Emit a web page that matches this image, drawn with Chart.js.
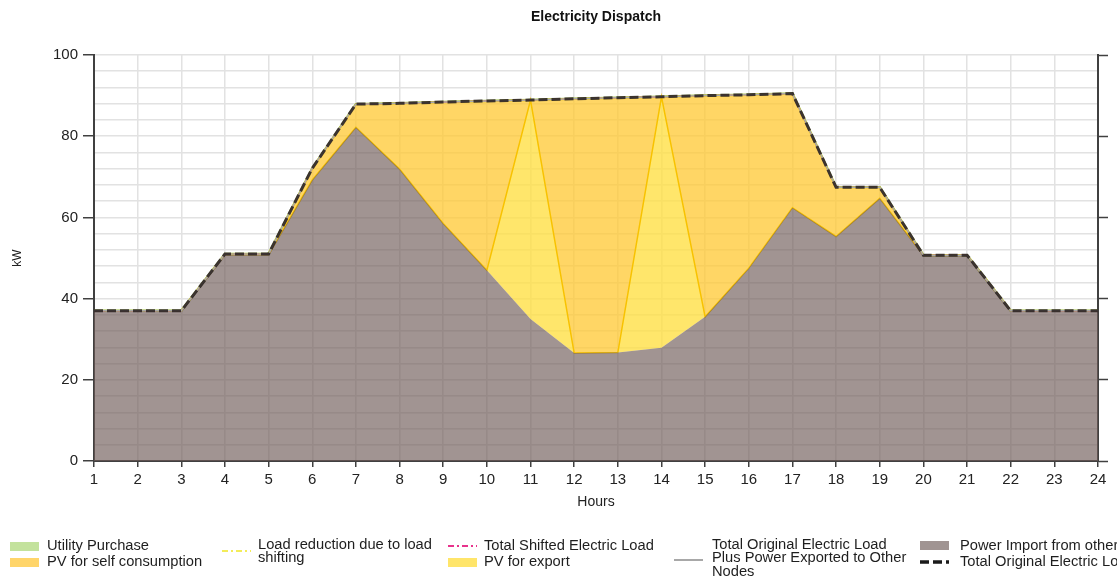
<!DOCTYPE html>
<html><head><meta charset="utf-8">
<script src="https://cdn.jsdelivr.net/npm/chart.js@4.4.1/dist/chart.umd.min.js"></script>
<style>
html,body{margin:0;padding:0;background:#fff;overflow:hidden;width:1117px;height:576px;}
#wrap{position:relative;width:1117px;height:576px;overflow:hidden;}
#c{position:absolute;left:0;top:0;}
.lt{position:absolute;font-family:"Liberation Sans",Arial,sans-serif;font-size:14.7px;line-height:13.5px;color:#1e1e1e;white-space:normal;}
.sym{position:absolute;}
</style>
</head><body>
<div id="wrap"><canvas id="c" width="1117" height="576"></canvas><div id="legend"></div></div>
<script>
// ---- data ----
const TITLE = 'Electricity Dispatch';
const X_TITLE = 'Hours';
const Y_TITLE = 'kW';
const hours = ['1','2','3','4','5','6','7','8','9','10','11','12','13','14','15','16','17','18','19','20','21','22','23','24'];
const powerImport      = [37,37,37,50.8,50.8,69.2,82.2,71.9,58.5,47,35,26.6,26.7,27.9,35.5,47.5,62.4,55.3,64.7,50.6,50.6,37,37,37];
const pvExport         = [0,0,0,0,0,0,0,0,0,0,53.9,0,0,61.8,0,0,0,0,0,0,0,0,0,0];
const pvSelf           = [0,0,0,0.2,0.2,2.9,5.7,16.2,29.9,41.7,0,62.6,62.8,0,54.5,42.7,28.1,12.1,2.7,0.1,0.1,0,0,0];
const utilityPurchase  = [0,0,0,0,0,0,0,0,0,0,0,0,0,0,0,0,0,0,0,0,0,0,0,0];
const totalLoad        = [37,37,37,51,51,72.1,87.9,88.1,88.4,88.7,88.9,89.2,89.5,89.7,90,90.2,90.5,67.4,67.4,50.7,50.7,37,37,37];
const totalLoadPlusExport = [37,37,37,51,51,72.1,87.9,88.1,88.4,88.7,88.9,89.2,89.5,89.7,90,90.2,90.5,67.4,67.4,50.7,50.7,37,37,37];
const totalShifted     = [37,37,37,51,51,72.1,87.9,88.1,88.4,88.7,88.9,89.2,89.5,89.7,90,90.2,90.5,67.4,67.4,50.7,50.7,37,37,37];
const loadReduction    = [0,0,0,0,0,0,0,0,0,0,0,0,0,0,0,0,0,0,0,0,0,0,0,0];
const yTicksMajor = [0,20,40,60,80,100];

// ---- chart ----
const FONT = '"Liberation Sans", Arial, sans-serif';
Chart.defaults.font.family = FONT;
const AXIS = '#404040';
const GRID = '#e2e2e2';

const datasets = [
  {label:'Total Original Electric Load', data:totalLoad, stack:'l0', borderColor:'rgba(45,38,38,0.9)', borderWidth:3, borderDash:[9,4], fill:false},
  {label:'Total Original Electric Load Plus Power Exported to Other Nodes', data:totalLoadPlusExport, stack:'l1', borderColor:'#a8a8a8', borderWidth:1.5, fill:false},
  {label:'Total Shifted Electric Load', data:totalShifted, stack:'l2', borderColor:'#e8338c', borderWidth:1, borderDash:[6,3,2,3], fill:false},
  {label:'Load reduction due to load shifting', data:loadReduction, stack:'l3', borderColor:'rgba(240,230,60,0)', borderWidth:1, borderDash:[6,3,2,3], fill:false},
  {label:'Power Import from other Nodes', data:powerImport, stack:'a', borderColor:'rgba(0,0,0,0)', borderWidth:0, backgroundColor:'rgba(110,90,88,0.65)', fill:'origin'},
  {label:'PV for export', data:pvExport, stack:'a', borderColor:'#f8c200', borderWidth:1.5, backgroundColor:'rgba(255,224,70,0.8)', fill:'-1'},
  {label:'PV for self consumption', data:pvSelf, stack:'a', borderColor:'#f5c400', borderWidth:1.5, backgroundColor:'rgba(255,200,50,0.75)', fill:'-1'},
  {label:'Utility Purchase', data:utilityPurchase, stack:'a', borderColor:'#9bbb3a', borderWidth:2.5, backgroundColor:'rgba(160,210,120,0.8)', fill:'-1'}
];
datasets.forEach(d => { d.pointRadius = 0; d.pointHoverRadius = 0; d.tension = 0; });

const titlePlugin = {
  id:'ctitle',
  afterDraw(chart){
    const {ctx, chartArea} = chart;
    ctx.save();
    ctx.font = 'bold 14px ' + FONT;
    ctx.fillStyle = '#111';
    ctx.textAlign = 'center';
    ctx.textBaseline = 'middle';
    ctx.fillText(TITLE, (chartArea.left + chartArea.right)/2, 17);
    ctx.restore();
  }
};

const chart = new Chart(document.getElementById('c'), {
  type:'line',
  data:{labels:hours, datasets},
  plugins:[titlePlugin],
  options:{
    responsive:false, animation:false,
    layout:{padding:{top:55,left:0,right:0,bottom:65.5}},
    plugins:{legend:{display:false}, title:{display:false}, tooltip:{enabled:false}},
    scales:{
      x:{
        offset:false,
        grid:{color:GRID, lineWidth:1.5, tickLength:6, tickColor:AXIS, tickWidth:1.5},
        border:{color:AXIS, width:2},
        ticks:{font:{size:15}, color:'#222', padding:4, maxRotation:0, autoSkip:false},
        title:{display:true, text:X_TITLE, font:{size:14}, color:'#222', padding:0},
        afterFit(s){ s.height = 49.5; }
      },
      y:{
        stacked:true, min:0, max:100,
        ticks:{stepSize:4, autoSkip:false, font:{size:15}, color:'#222', padding:5,
               callback:(v)=> yTicksMajor.includes(v) ? String(v) : ''},
        grid:{color:GRID, lineWidth:1.5, tickLength:11, tickWidth:1.5,
              tickColor:(ctx)=> (ctx.tick && yTicksMajor.includes(ctx.tick.value)) ? AXIS : 'rgba(0,0,0,0)'},
        border:{color:AXIS, width:2},
        title:{display:true, text:Y_TITLE, font:{size:12}, color:'#222', padding:{top:10,bottom:0}},
        afterFit(s){ s.width = 94; }
      },
      y2:{
        position:'right', min:0, max:100,
        ticks:{display:false, stepSize:20},
        grid:{drawOnChartArea:false, tickLength:10, tickColor:AXIS, tickWidth:1.5},
        border:{color:AXIS, width:2},
        afterFit(s){ s.width = 19; }
      }
    }
  }
});

// ---- HTML legend (labels come from the datasets) ----
const legendLayout = [
  {ds:7, kind:'box',  color:'#c3e29c', sx:10,  sy:541.5, tx:47,  ty:539,   w:200},
  {ds:6, kind:'box',  color:'#ffd56a', sx:10,  sy:558,   tx:47,  ty:555,   w:200},
  {ds:3, kind:'line', color:'#f3ec5a', dash:'6,3,2,3', lw:2, sx:222, sy:551, tx:258, ty:537.5, w:190},
  {ds:2, kind:'line', color:'#e8338c', dash:'6,3,2,3', lw:2, sx:448, sy:546, tx:484, ty:539,   w:220},
  {ds:5, kind:'box',  color:'#ffe56a', sx:448, sy:558,   tx:484, ty:555,   w:220},
  {ds:1, kind:'line', color:'#a8a8a8', dash:'', lw:2, sx:674, sy:559.5, tx:712, ty:537.5, w:205},
  {ds:4, kind:'box',  color:'#a09492', sx:920, sy:541,   tx:960, ty:539,   w:300},
  {ds:0, kind:'line', color:'#1a1a1a', dash:'9,4', lw:3.5, sx:920, sy:561.5, tx:960, ty:555, w:300}
];
const lg = document.getElementById('legend');
legendLayout.forEach(it => {
  const label = chart.data.datasets[it.ds].label;
  if (it.kind === 'box') {
    const b = document.createElement('div');
    b.className = 'sym';
    b.style.cssText = `left:${it.sx}px;top:${it.sy}px;width:29px;height:9px;background:${it.color};`;
    lg.appendChild(b);
  } else {
    const ns = 'http://www.w3.org/2000/svg';
    const svg = document.createElementNS(ns,'svg');
    svg.setAttribute('width','29'); svg.setAttribute('height','6');
    svg.setAttribute('class','sym');
    svg.style.left = it.sx + 'px'; svg.style.top = (it.sy - 3) + 'px';
    const l = document.createElementNS(ns,'line');
    l.setAttribute('x1','0'); l.setAttribute('x2','29'); l.setAttribute('y1','3'); l.setAttribute('y2','3');
    l.setAttribute('stroke', it.color); l.setAttribute('stroke-width', it.lw);
    if (it.dash) l.setAttribute('stroke-dasharray', it.dash);
    svg.appendChild(l);
    lg.appendChild(svg);
  }
  const t = document.createElement('div');
  t.className = 'lt';
  t.style.left = it.tx + 'px'; t.style.top = it.ty + 'px'; t.style.width = it.w + 'px';
  t.textContent = label;
  lg.appendChild(t);
});
</script>
</body></html>
